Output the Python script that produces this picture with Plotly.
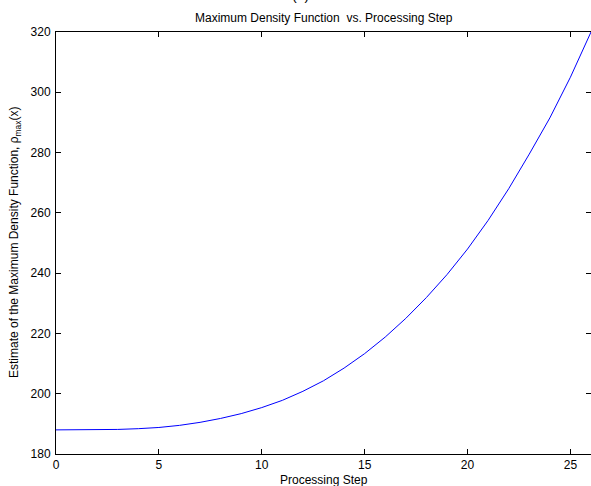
import plotly.graph_objects as go

steps = list(range(0, 27))
rho_max = [188.0, 188.0, 188.05, 188.15, 188.4, 188.8, 189.5, 190.5, 191.8, 193.4,
           195.4, 197.8, 200.8, 204.3, 208.5, 213.3, 218.8, 225.0, 231.9, 239.5,
           248.0, 257.5, 268.0, 279.5, 291.5, 305.0, 320.0]

x_ticks = [0, 5, 10, 15, 20, 25]
y_ticks = [180, 200, 220, 240, 260, 280, 300, 320]

W, H = 591, 486
L, R, T, B = 56, 0, 32, 32

fig = go.Figure()
fig.add_trace(go.Scatter(x=steps, y=rho_max, mode="lines",
                         line=dict(color="rgb(0,0,255)", width=1), showlegend=False))

font = dict(family="Liberation Sans, Arial, Helvetica, sans-serif", size=12, color="black")

axis_common = dict(showgrid=False, zeroline=False, showline=True, linecolor="black",
                   linewidth=1, mirror="ticks", ticks="inside", ticklen=5,
                   tickcolor="black", tickwidth=1, tickfont=font)

fig.update_xaxes(range=[0, 26], tickvals=x_ticks, ticktext=[str(v) for v in x_ticks], **axis_common)
fig.update_yaxes(range=[180, 320], tickvals=y_ticks, ticktext=[str(v) for v in y_ticks],
                 ticklabelstandoff=2, **axis_common)

ph = H - T - B
fig.update_layout(
    width=W, height=H,
    margin=dict(l=L, r=R, t=T, b=B, pad=0),
    plot_bgcolor="white", paper_bgcolor="white",
    font=font,
    annotations=[
        dict(text="Maximum Density Function\u00a0 vs. Processing Step", xref="paper", yref="paper",
             x=0.5, y=1 + (T - 18) / ph, xanchor="center", yanchor="middle",
             showarrow=False, font=font),
        dict(text="(a)", xref="paper", yref="paper",
             x=(300 - L) / (W - L - R), y=1 + (T - 5) / ph, xanchor="center", yanchor="bottom",
             showarrow=False, font=dict(family=font["family"], size=14, color="black")),
        dict(text="Processing Step", xref="paper", yref="paper",
             x=0.5, y=-(480 - (H - B)) / ph, xanchor="center", yanchor="middle",
             showarrow=False, font=font),
        dict(text="Estimate of the Maximum Density Function, \u03c1<sub>max</sub>(x)",
             xref="paper", yref="paper", x=-(L - 15) / (W - L - R), y=0.5,
             xanchor="center", yanchor="middle", textangle=-90,
             showarrow=False, font=font),
    ],
)

fig.write_html("out.html", config={"displayModeBar": False},
               post_script="document.body.style.margin='0';document.body.style.overflow='hidden';")
